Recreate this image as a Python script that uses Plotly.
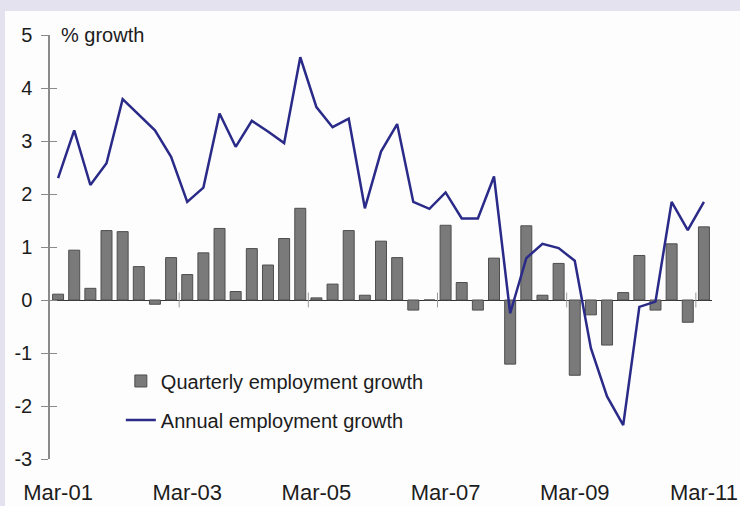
import plotly.graph_objects as go

# Quarter-end periods, March 2001 to March 2011
quarters = [
    "Mar-01", "Jun-01", "Sep-01", "Dec-01",
    "Mar-02", "Jun-02", "Sep-02", "Dec-02",
    "Mar-03", "Jun-03", "Sep-03", "Dec-03",
    "Mar-04", "Jun-04", "Sep-04", "Dec-04",
    "Mar-05", "Jun-05", "Sep-05", "Dec-05",
    "Mar-06", "Jun-06", "Sep-06", "Dec-06",
    "Mar-07", "Jun-07", "Sep-07", "Dec-07",
    "Mar-08", "Jun-08", "Sep-08", "Dec-08",
    "Mar-09", "Jun-09", "Sep-09", "Dec-09",
    "Mar-10", "Jun-10", "Sep-10", "Dec-10",
    "Mar-11",
]

# Quarterly employment growth, %
quarterly_growth = [
    0.11, 0.94, 0.22, 1.31, 1.29, 0.63, -0.08, 0.80,
    0.48, 0.89, 1.35, 0.16, 0.97, 0.66, 1.16, 1.73,
    0.04, 0.30, 1.31, 0.09, 1.11, 0.80, -0.19, 0.00,
    1.41, 0.33, -0.19, 0.79, -1.21, 1.40, 0.09, 0.69,
    -1.42, -0.28, -0.85, 0.14, 0.84, -0.19, 1.06, -0.42,
    1.38,
]

# Annual employment growth, %
annual_growth = [
    2.30, 3.20, 2.17, 2.58, 3.79, 3.49, 3.20, 2.70,
    1.85, 2.12, 3.52, 2.89, 3.38, 3.18, 2.96, 4.58,
    3.64, 3.26, 3.42, 1.73, 2.80, 3.32, 1.85, 1.72,
    2.03, 1.54, 1.54, 2.33, -0.25, 0.79, 1.06, 0.98,
    0.74, -0.91, -1.82, -2.36, -0.13, -0.03, 1.85, 1.32,
    1.85,
]

x_tick_labels = ["Mar-01", "Mar-03", "Mar-05", "Mar-07", "Mar-09", "Mar-11"]
y_ticks = [-3, -2, -1, 0, 1, 2, 3, 4, 5]
y_tick_text = ["-3", "-2", "-1", "0", "1", "2", "3", "4", "5"]
y_range = [-3, 5]
# Year boundaries (between Dec and Mar) marked on the zero line every two years
boundary_positions = [7.5, 15.5, 23.5, 31.5, 39.5]

FONT = "Arial, 'Liberation Sans', sans-serif"
TEXT = "#1c1c1c"

fig = go.Figure()

fig.add_trace(go.Bar(
    x=quarters,
    y=quarterly_growth,
    name="Quarterly employment growth",
    marker=dict(color="#7a7a7a", line=dict(color="#4e4e4e", width=1)),
    legendgroup="q",
))

fig.add_trace(go.Scatter(
    x=quarters,
    y=annual_growth,
    mode="lines",
    name="Annual employment growth",
    line=dict(color="#2a2a88", width=2.5),
    legendgroup="a",
))

shapes = [
    # white panel on the lavender page
    dict(type="rect", xref="paper", yref="paper",
         x0=-0.068, x1=1.05, y0=-0.12, y1=1.0566,
         fillcolor="#fdfdfd", line=dict(width=0), layer="below"),
]
for b in boundary_positions:
    shapes.append(dict(type="line", xref="x", yref="y",
                       x0=b, x1=b, y0=-0.14, y1=0.14,
                       line=dict(color="#9a9a9a", width=1)))

fig.update_layout(
    width=740,
    height=506,
    margin=dict(l=50, r=28, t=35, b=47),
    paper_bgcolor="#e4e2ee",
    plot_bgcolor="rgba(0,0,0,0)",
    font=dict(family=FONT, color=TEXT),
    bargap=0.32,
    showlegend=True,
    legend=dict(
        x=0.107, y=0.23, xanchor="left", yanchor="top",
        bgcolor="rgba(0,0,0,0)",
        font=dict(size=20, color=TEXT, family=FONT),
        traceorder="grouped",
        tracegroupgap=10,
        itemwidth=30,
    ),
    shapes=shapes,
    annotations=[
        dict(text="% growth", xref="paper", yref="y", x=0.013, y=5,
             xanchor="left", yanchor="middle", showarrow=False,
             font=dict(size=20, color=TEXT, family=FONT)),
    ],
)

fig.update_xaxes(
    type="category",
    range=[-0.5, len(quarters) - 0.5],
    tickmode="array",
    tickvals=x_tick_labels,
    ticktext=x_tick_labels,
    tickangle=0,
    ticks="",
    showgrid=False,
    showline=False,
    zeroline=False,
    automargin=False,
    tickfont=dict(size=22, color=TEXT, family=FONT),
    ticklabelstandoff=18,
)

fig.update_yaxes(
    range=y_range,
    tickmode="array",
    tickvals=y_ticks,
    ticktext=y_tick_text,
    ticks="outside",
    ticklen=7,
    tickwidth=1.3,
    tickcolor="#8a8a8a",
    showline=True,
    linecolor="#8a8a8a",
    linewidth=1.5,
    showgrid=False,
    zeroline=True,
    zerolinecolor="#333333",
    zerolinewidth=1.3,
    automargin=False,
    tickfont=dict(size=20, color=TEXT, family=FONT),
    ticklabelstandoff=5,
)

# Inner half of the crossing y-axis ticks
fig.update_layout(yaxis2=dict(
    overlaying="y", side="left", range=y_range,
    tickmode="array", tickvals=y_ticks, ticks="inside", ticklen=7,
    tickwidth=1.3, tickcolor="#8a8a8a", showticklabels=False,
    showgrid=False, zeroline=False, showline=False,
))
fig.add_trace(go.Scatter(x=[quarters[0]], y=[None], yaxis="y2",
                         showlegend=False, hoverinfo="skip"))

fig.write_html("out.html")
